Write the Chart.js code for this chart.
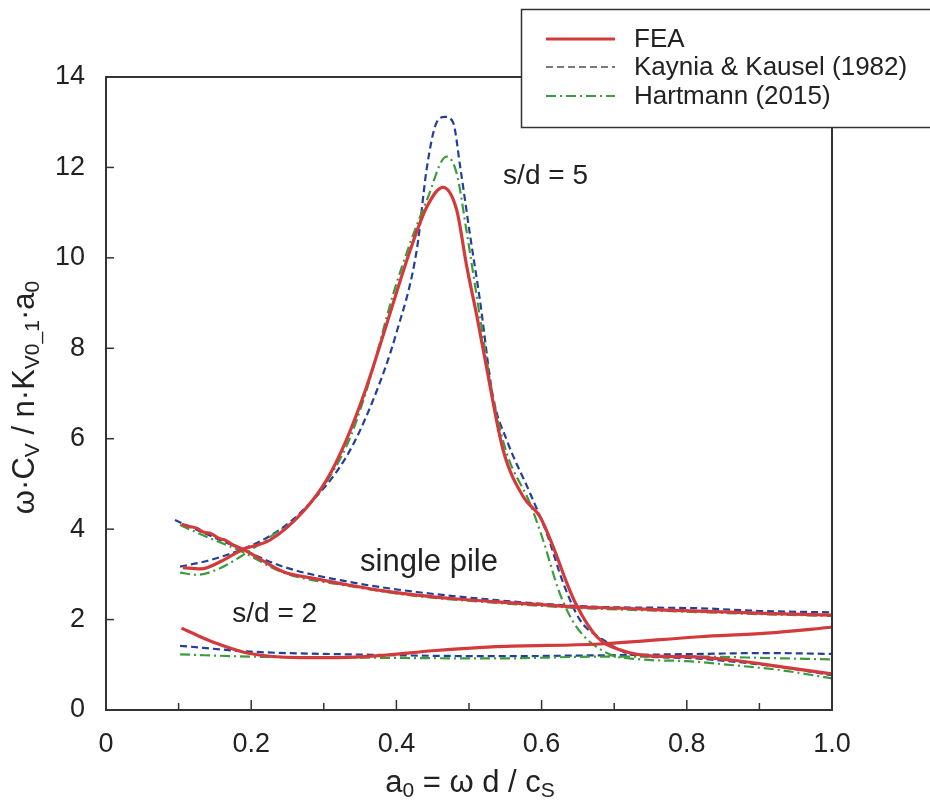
<!DOCTYPE html>
<html>
<head>
<meta charset="utf-8">
<script src="https://cdn.jsdelivr.net/npm/chart.js@4.4.1/dist/chart.umd.min.js"></script>
<style>
  html, body { margin: 0; padding: 0; background: #fff; }
  #wrap { width: 930px; height: 805px; }
</style>
</head>
<body>
<div id="wrap"><canvas id="chart" width="930" height="805"></canvas></div>
<script>
// s/d = 5 group
const sd5FeaX = [0.106, 0.13, 0.16, 0.187, 0.226, 0.271, 0.304, 0.331, 0.359, 0.382, 0.419, 0.442, 0.464, 0.483, 0.497, 0.511, 0.524, 0.547, 0.575, 0.598, 0.616, 0.635, 0.648, 0.676, 0.708, 0.754, 0.80, 0.864, 0.933, 1.0];
const sd5FeaY = [3.15, 3.12, 3.3, 3.54, 3.76, 4.38, 5.09, 5.97, 7.15, 8.3, 10.17, 11.13, 11.56, 11.06, 9.8, 8.7, 7.59, 5.75, 4.71, 4.27, 3.61, 2.8, 2.32, 1.62, 1.33, 1.19, 1.18, 1.1, 0.95, 0.8];
const sd5KayX = [0.102, 0.14, 0.185, 0.226, 0.267, 0.331, 0.368, 0.4, 0.428, 0.442, 0.455, 0.467, 0.478, 0.488, 0.501, 0.515, 0.533, 0.552, 0.584, 0.607, 0.63, 0.653, 0.685, 0.726, 0.80, 0.864, 0.93, 1.0];
const sd5KayY = [3.17, 3.3, 3.54, 3.85, 4.35, 5.6, 6.86, 8.34, 10.17, 12.0, 12.98, 13.12, 13.0, 12.0, 10.55, 9.07, 6.93, 5.97, 4.8, 3.91, 2.8, 1.99, 1.55, 1.22, 1.15, 1.07, 0.95, 0.77];
const sd5HarX = [0.102, 0.125, 0.155, 0.185, 0.226, 0.267, 0.331, 0.359, 0.396, 0.419, 0.442, 0.469, 0.483, 0.497, 0.515, 0.533, 0.552, 0.584, 0.602, 0.625, 0.648, 0.69, 0.736, 0.80, 0.864, 0.93, 1.0];
const sd5HarY = [3.04, 2.99, 3.12, 3.39, 3.83, 4.31, 5.83, 7.08, 9.22, 10.33, 11.28, 12.24, 11.87, 10.55, 8.7, 6.93, 5.68, 4.57, 3.76, 2.58, 1.84, 1.26, 1.12, 1.08, 0.99, 0.88, 0.7];

// single pile
const singleFeaX = [0.104, 0.115, 0.125, 0.135, 0.145, 0.155, 0.165, 0.175, 0.187, 0.21, 0.244, 0.29, 0.336, 0.38, 0.428, 0.48, 0.538, 0.6, 0.648, 0.71, 0.772, 0.85, 0.92, 1.0];
const singleFeaY = [4.11, 4.06, 4.02, 3.93, 3.9, 3.8, 3.75, 3.65, 3.57, 3.36, 3.06, 2.9, 2.76, 2.64, 2.54, 2.46, 2.39, 2.33, 2.28, 2.25, 2.21, 2.17, 2.13, 2.1];
const singleKayX = [0.095, 0.14, 0.185, 0.244, 0.336, 0.428, 0.538, 0.6, 0.68, 0.818, 0.9, 1.0];
const singleKayY = [4.2, 3.88, 3.57, 3.17, 2.83, 2.61, 2.43, 2.35, 2.28, 2.25, 2.19, 2.16];
const singleHarX = [0.102, 0.14, 0.185, 0.244, 0.336, 0.428, 0.538, 0.648, 0.772, 0.9, 1.0];
const singleHarY = [4.09, 3.82, 3.52, 3.04, 2.74, 2.52, 2.37, 2.26, 2.19, 2.12, 2.08];

// s/d = 2 group
const sd2FeaX = [0.104, 0.13, 0.153, 0.198, 0.267, 0.313, 0.382, 0.45, 0.538, 0.68, 0.818, 0.91, 1.0];
const sd2FeaY = [1.81, 1.62, 1.47, 1.25, 1.16, 1.16, 1.21, 1.31, 1.4, 1.46, 1.62, 1.7, 1.83];
const sd2KayX = [0.102, 0.2, 0.336, 0.538, 0.68, 0.818, 0.91, 1.0];
const sd2KayY = [1.42, 1.29, 1.23, 1.19, 1.21, 1.24, 1.26, 1.24];
const sd2HarX = [0.102, 0.2, 0.336, 0.538, 0.68, 0.818, 0.91, 1.0];
const sd2HarY = [1.23, 1.18, 1.16, 1.14, 1.18, 1.18, 1.15, 1.12];

const xTicks = [0, 0.2, 0.4, 0.6, 0.8, 1.0];
const yTicks = [0, 2, 4, 6, 8, 10, 12, 14];
const legendNames = ['FEA', 'Kaynia & Kausel (1982)', 'Hartmann (2015)'];

const FONT = '"Liberation Sans", Arial, sans-serif';
const RED = '#d23a3c';
const BLUE = '#22409a';
const GREEN = '#3c9c3c';

const pts = (xs, ys) => xs.map((x, i) => ({ x: x, y: ys[i] }));

function feaSet(xs, ys) {
    return { data: pts(xs, ys), borderColor: RED, borderWidth: 3.2, order: 0 };
}
function kaySet(xs, ys) {
    return { data: pts(xs, ys), borderColor: BLUE, borderWidth: 2.2, borderDash: [7, 4], order: 2 };
}
function harSet(xs, ys) {
    return { data: pts(xs, ys), borderColor: GREEN, borderWidth: 2.2, borderDash: [10, 4, 2, 4], order: 1 };
}

// draws a string made of normal and subscript parts
function drawRich(ctx, parts, size) {
    const sub = Math.round(size * 0.68);
    let total = 0;
    parts.forEach(p => {
        ctx.font = (p[1] ? sub : size) + 'px ' + FONT;
        total += ctx.measureText(p[0]).width;
    });
    let x = -total / 2;
    parts.forEach(p => {
        ctx.font = (p[1] ? sub : size) + 'px ' + FONT;
        ctx.fillText(p[0], x, p[1] ? size * 0.28 : 0);
        x += ctx.measureText(p[0]).width;
    });
}

const decorPlugin = {
    id: 'decor',
    afterDraw(chart) {
        const ctx = chart.ctx;
        const a = chart.chartArea;
        const xs = chart.scales.x;
        const ys = chart.scales.y;
        ctx.save();

        // frame
        ctx.strokeStyle = '#333';
        ctx.lineWidth = 2;
        ctx.strokeRect(a.left, a.top, a.right - a.left, a.bottom - a.top);

        // inward ticks
        ctx.lineWidth = 1.5;
        for (let i = 1; i < 10; i++) {
            const px = xs.getPixelForValue(i / 10);
            const len = i % 2 === 0 ? 10 : 7;
            ctx.beginPath();
            ctx.moveTo(px, a.bottom);
            ctx.lineTo(px, a.bottom - len);
            ctx.stroke();
        }
        yTicks.slice(1, -1).forEach(v => {
            const py = ys.getPixelForValue(v);
            ctx.beginPath();
            ctx.moveTo(a.left, py);
            ctx.lineTo(a.left + 8, py);
            ctx.stroke();
        });

        // curve labels
        ctx.fillStyle = '#222';
        ctx.textBaseline = 'middle';
        ctx.textAlign = 'left';
        ctx.font = '28px ' + FONT;
        ctx.fillText('s/d = 5', xs.getPixelForValue(0.547), ys.getPixelForValue(11.8));
        ctx.fillText('s/d = 2', xs.getPixelForValue(0.174), ys.getPixelForValue(2.12));
        ctx.font = '31px ' + FONT;
        ctx.fillText('single pile', xs.getPixelForValue(0.35), ys.getPixelForValue(3.27));

        // axis titles
        ctx.textBaseline = 'middle';
        ctx.save();
        ctx.translate((a.left + a.right) / 2 + 1, 783);
        drawRich(ctx, [['a', 0], ['0', 1], [' = \u03c9 d / c', 0], ['S', 1]], 31);
        ctx.restore();

        ctx.save();
        ctx.translate(25, (a.top + a.bottom) / 2 + 4);
        ctx.rotate(-Math.PI / 2);
        drawRich(ctx, [['\u03c9\u00b7C', 0], ['V', 1], [' / n\u00b7K', 0], ['V0_1', 1], ['\u00b7a', 0], ['0', 1]], 31);
        ctx.restore();

        // legend box
        ctx.fillStyle = '#fff';
        ctx.fillRect(521, 9, 420, 118);
        ctx.strokeStyle = '#333';
        ctx.lineWidth = 1.5;
        ctx.strokeRect(521.5, 9.5, 420, 118);
        const rows = [39, 67, 96];
        const styles = [
            { c: RED, w: 3, d: [] },
            { c: '#7a7a7a', w: 2, d: [7, 4] },
            { c: GREEN, w: 2, d: [10, 4, 2, 4] }
        ];
        rows.forEach((ry, i) => {
            ctx.strokeStyle = styles[i].c;
            ctx.lineWidth = styles[i].w;
            ctx.setLineDash(styles[i].d);
            ctx.beginPath();
            ctx.moveTo(546, ry);
            ctx.lineTo(615, ry);
            ctx.stroke();
            ctx.setLineDash([]);
            ctx.fillStyle = '#222';
            ctx.font = '26px ' + FONT;
            ctx.textAlign = 'left';
            ctx.fillText(legendNames[i], 634, ry + 1);
        });
        ctx.restore();
    }
};

new Chart(document.getElementById('chart'), {
    type: 'scatter',
    data: {
        datasets: [
            feaSet(sd5FeaX, sd5FeaY), kaySet(sd5KayX, sd5KayY), harSet(sd5HarX, sd5HarY),
            feaSet(singleFeaX, singleFeaY), kaySet(singleKayX, singleKayY), harSet(singleHarX, singleHarY),
            feaSet(sd2FeaX, sd2FeaY), kaySet(sd2KayX, sd2KayY), harSet(sd2HarX, sd2HarY)
        ]
    },
    options: {
        responsive: false,
        animation: false,
        devicePixelRatio: 1,
        layout: { padding: { top: 77, right: 98, left: 0, bottom: 0 } },
        datasets: {
            scatter: {
                showLine: true,
                pointRadius: 0,
                cubicInterpolationMode: 'monotone',
                fill: false
            }
        },
        plugins: {
            legend: { display: false },
            tooltip: { enabled: false }
        },
        scales: {
            x: {
                type: 'linear',
                min: 0,
                max: 1,
                afterBuildTicks: s => { s.ticks = xTicks.map(v => ({ value: v })); },
                afterFit: s => { s.height = 95; },
                grid: { display: false },
                border: { display: false },
                ticks: {
                    padding: 10,
                    color: '#222',
                    font: { family: FONT, size: 27 },
                    callback: v => (v === 0 ? '0' : v.toFixed(1))
                }
            },
            y: {
                min: 0,
                max: 14,
                afterBuildTicks: s => { s.ticks = yTicks.map(v => ({ value: v })); },
                afterFit: s => { s.width = 106; },
                grid: { display: false },
                border: { display: false },
                ticks: {
                    padding: 13,
                    color: '#222',
                    font: { family: FONT, size: 27 }
                }
            }
        }
    },
    plugins: [decorPlugin]
});
</script>
</body>
</html>
